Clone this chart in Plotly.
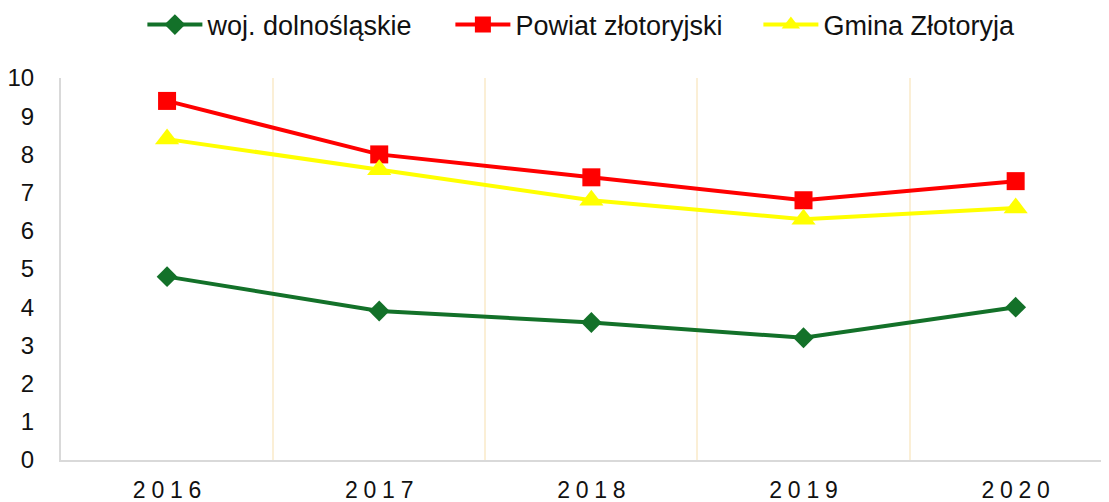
import plotly.graph_objects as go

years = ["2016", "2017", "2018", "2019", "2020"]
woj = [4.8, 3.9, 3.6, 3.2, 4.0]
powiat = [9.4, 8.0, 7.4, 6.8, 7.3]
gmina = [8.4, 7.6, 6.8, 6.3, 6.6]

names = ["woj. dolnośląskie", "Powiat złotoryjski", "Gmina Złotoryja"]

x = list(range(len(years)))
ticktext = ["\u2005".join(y) for y in years]

fig = go.Figure()
fig.add_trace(go.Scatter(x=x, y=woj, name=names[0], mode="lines+markers",
                         line=dict(color="#137129", width=4),
                         marker=dict(symbol="diamond", size=16, color="#137129")))
fig.add_trace(go.Scatter(x=x, y=powiat, name=names[1], mode="lines+markers",
                         line=dict(color="#FF0000", width=4),
                         marker=dict(symbol="square", size=18, color="#FF0000")))
fig.add_trace(go.Scatter(x=x, y=gmina, name=names[2], mode="lines+markers",
                         line=dict(color="#FFFF00", width=4),
                         marker=dict(symbol="triangle-up", size=21, color="#FFFF00")))

fig.update_layout(
    width=1101, height=494,
    margin=dict(l=53, r=0, t=70, b=42, autoexpand=False),
    paper_bgcolor="white", plot_bgcolor="white",
    font=dict(family="Liberation Sans, Arial, sans-serif", size=23, color="#111111"),
    legend=dict(orientation="h", x=0.5185, xanchor="center", y=0.9656, yanchor="middle",
                yref="container", font=dict(size=27), itemwidth=55,
                entrywidth=238, tracegroupgap=0),
    showlegend=True,
)
fig.update_xaxes(
    range=[-0.5, 4.44], tickvals=x, ticktext=ticktext,
    showgrid=False, zeroline=False, automargin=False,
    showline=True, linecolor="#D9D9D9", linewidth=2,
    ticks="", ticklabelstandoff=8,
    tickfont=dict(size=23),
    minor=dict(tickvals=[i + 0.5 for i in x[:-1]], showgrid=True,
               gridcolor="#FBEFD6", gridwidth=2, ticks=""),
)
fig.update_yaxes(
    range=[0, 10], dtick=1, showgrid=False, zeroline=False, automargin=False,
    showline=True, linecolor="#D9D9D9", linewidth=2,
    ticks="", ticklabelstandoff=20, tickfont=dict(size=24),
)

fig.write_html("out.html")
